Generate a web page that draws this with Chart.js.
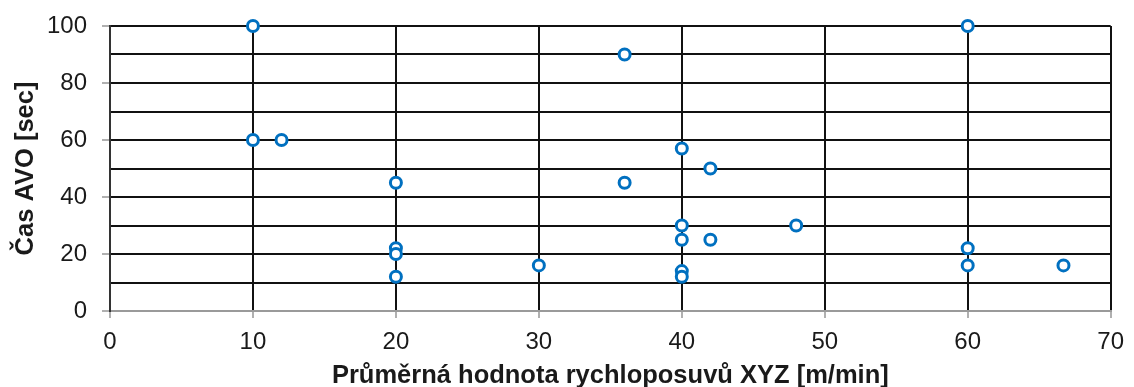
<!DOCTYPE html>
<html>
<head>
<meta charset="utf-8">
<script src="https://cdn.jsdelivr.net/npm/chart.js@4.4.1/dist/chart.umd.min.js"></script>
<style>
  html, body { margin: 0; padding: 0; background: #fff; }
  #wrap { width: 1134px; height: 387px; position: relative; }
</style>
</head>
<body>
<div id="wrap"><canvas id="c"></canvas></div>
<script>
// Average rapid traverse speed XYZ [m/min] vs. AVO time [sec]
const speedValues = [10, 10, 12, 20, 20, 20, 20, 30, 36, 36, 40, 42, 40, 40, 42, 48, 40, 40, 60, 60, 60, 66.7];
const avoTimes    = [100, 60, 60, 45, 22, 20, 12, 16, 90, 45, 57, 50, 30, 25, 25, 30, 14, 12, 100, 22, 16, 16];
const xTicks = [0, 10, 20, 30, 40, 50, 60, 70];
const yGridTicks = [0, 10, 20, 30, 40, 50, 60, 70, 80, 90, 100];
const yLabelTicks = [0, 20, 40, 60, 80, 100];

const xTitle = 'Průměrná hodnota rychloposuvů XYZ [m/min]';
const yTitle = 'Čas AVO [sec]';

const points = speedValues.map((x, i) => ({ x: x, y: avoTimes[i] }));
const font = "'Liberation Sans', Arial, sans-serif";

new Chart(document.getElementById('c'), {
  type: 'scatter',
  data: {
    datasets: [{
      data: points,
      clip: false,
      pointRadius: 5.5,
      pointHoverRadius: 5.5,
      pointBorderWidth: 3,
      pointBorderColor: '#0070C0',
      pointBackgroundColor: '#ffffff'
    }]
  },
  options: {
    responsive: true,
    maintainAspectRatio: false,
    animation: false,
    layout: { padding: { top: 26, right: 22, left: 0, bottom: 0 } },
    plugins: { legend: { display: false }, tooltip: { enabled: false } },
    scales: {
      x: {
        type: 'linear',
        min: xTicks[0],
        max: xTicks[xTicks.length - 1],
        afterBuildTicks: s => { s.ticks = xTicks.map(v => ({ value: v })); },
        afterFit: s => { s.height = 76; },
        border: { display: true, color: '#9a9a9a', width: 2 },
        grid: {
          color: ctx => ctx.tick && ctx.tick.value === 0 ? '#9a9a9a' : '#111',
          lineWidth: 2,
          tickColor: '#b0b0b0',
          tickLength: 7,
          drawTicks: true
        },
        ticks: {
          color: '#1a1a1a',
          font: { family: font, size: 24 },
          padding: 10,
          maxRotation: 0,
          autoSkip: false
        },
        title: {
          display: true,
          text: xTitle,
          color: '#1a1a1a',
          font: { family: font, size: 25.5, weight: 'bold' },
          padding: { top: 0, bottom: -4 }
        }
      },
      y: {
        type: 'linear',
        min: 0,
        max: 100,
        afterBuildTicks: s => { s.ticks = yGridTicks.map(v => ({ value: v })); },
        afterFit: s => { s.width = 110; s.paddingTop = 0; s.paddingBottom = 0; },
        border: { display: true, color: '#333', width: 2 },
        grid: {
          color: '#111',
          lineWidth: 2,
          tickColor: ctx => ctx.tick && yLabelTicks.includes(ctx.tick.value) ? '#b0b0b0' : 'rgba(0,0,0,0)',
          tickLength: 8
        },
        ticks: {
          color: '#1a1a1a',
          font: { family: font, size: 24 },
          padding: 15,
          autoSkip: false,
          callback: v => yLabelTicks.includes(v) ? String(v) : ''
        },
        title: {
          display: true,
          text: yTitle,
          color: '#1a1a1a',
          font: { family: font, size: 25.5, weight: 'bold' },
          padding: { top: 11, bottom: 0 }
        }
      }
    }
  }
});
</script>
</body>
</html>
